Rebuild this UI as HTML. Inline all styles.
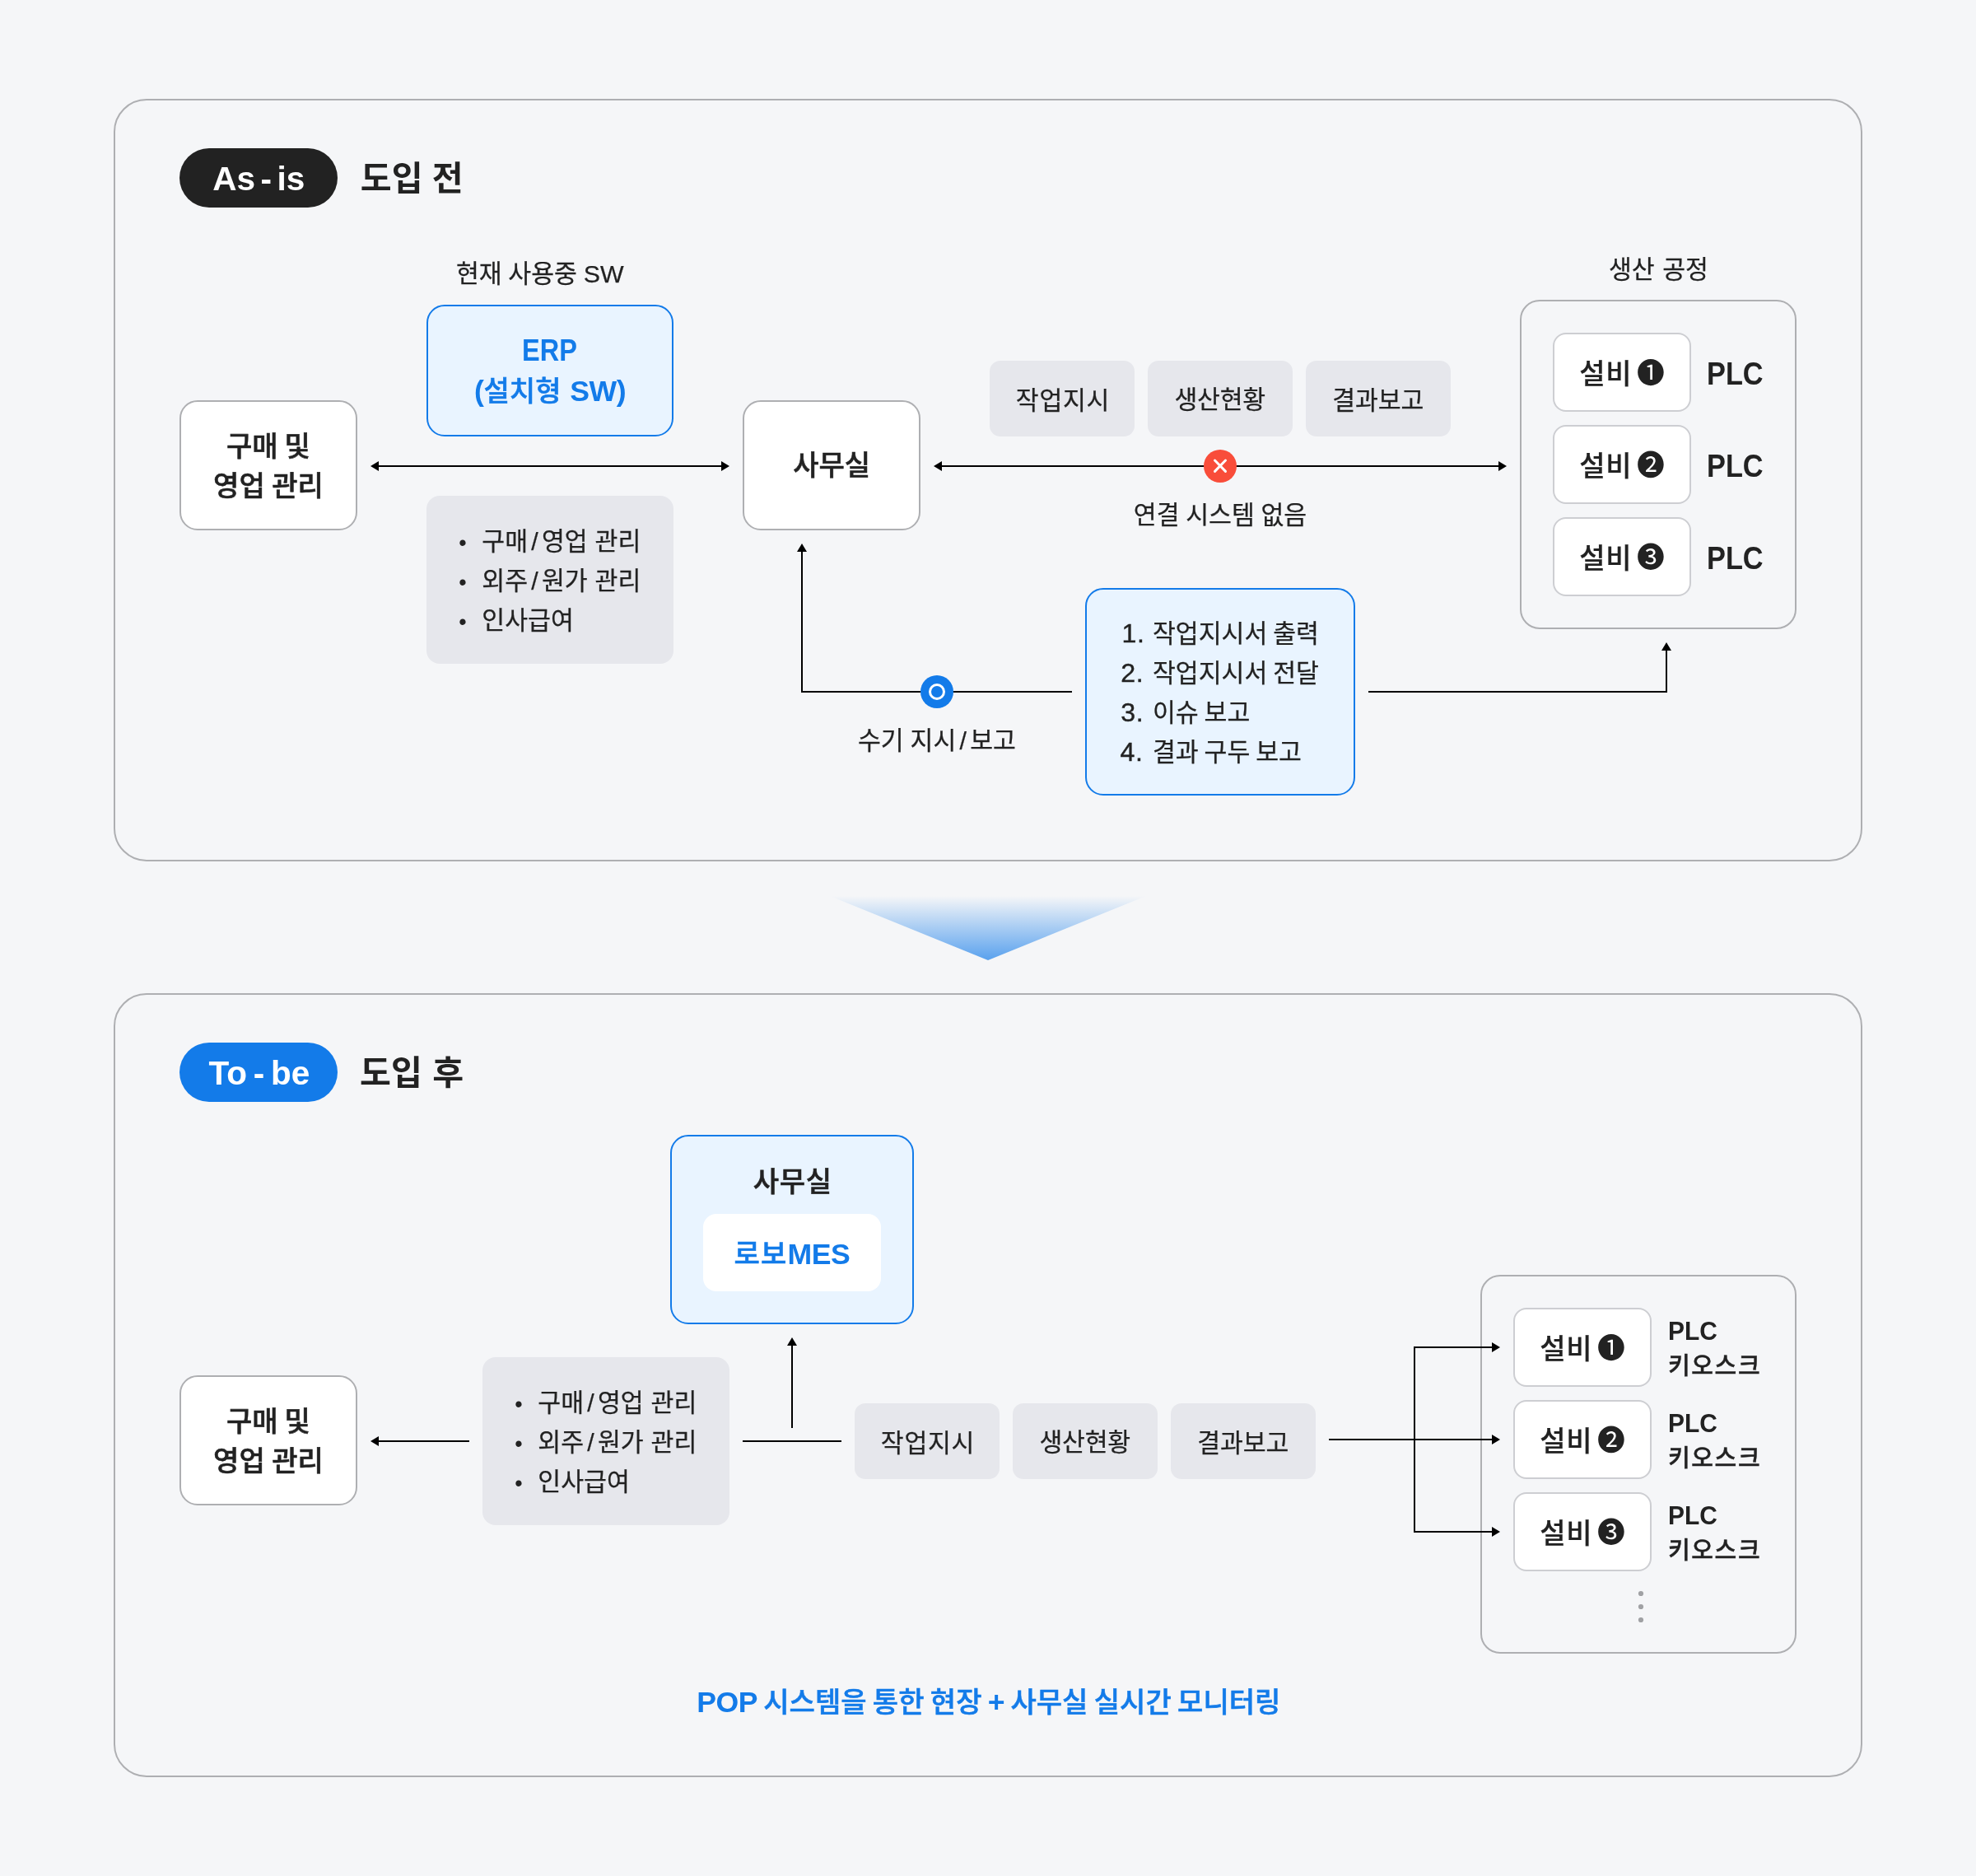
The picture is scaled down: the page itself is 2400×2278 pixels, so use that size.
<!DOCTYPE html>
<html lang="ko"><head><meta charset="utf-8"><title>As-is / To-be</title>
<style>
html,body{margin:0;padding:0}
body{width:2400px;height:2278px;position:relative;overflow:hidden;background:#f5f6f8;font-family:"Liberation Sans","Noto Sans CJK KR",sans-serif;color:#222}
.t{position:absolute;white-space:nowrap;line-height:1;margin:0;transform-origin:0 50%}
.b{position:absolute;box-sizing:border-box}
svg{position:absolute;left:0;top:0}
#txt{position:absolute;left:0;top:0;width:2400px;height:2278px;will-change:transform}
.L{font-weight:700;-webkit-text-stroke:0;font-size:1.045em;letter-spacing:-.015em}
.sl{margin:0 .14em}
.wb{background:#fff;border:2px solid #aeafb2;border-radius:22px}
.bb{background:#e9f4ff;border:2px solid #137be9;border-radius:22px}
.gb{background:#e6e7ec;border-radius:16px}
.chip{width:176px;height:92px;background:#e6e7ec;border-radius:13px}
.ob{border:2px solid #aeafb2;border-radius:24px}
.ib{width:168px;height:96px;background:#fff;border:2px solid #cdced2;border-radius:16px}
</style></head>
<body>
<!-- panels -->
<div class="b" style="left:138px;top:120px;width:2124px;height:926px;border:2px solid #aeafb2;border-radius:40px"></div>
<div class="b" style="left:138px;top:1206px;width:2124px;height:952px;border:2px solid #aeafb2;border-radius:40px"></div>
<!-- badges -->
<div class="b" style="left:218px;top:180px;width:192px;height:72px;border-radius:36px;background:#222"></div>
<div class="b" style="left:218px;top:1266px;width:192px;height:72px;border-radius:36px;background:#137be9"></div>
<!-- panel 1 boxes -->
<div class="b wb" style="left:218px;top:486px;width:216px;height:158px"></div>
<div class="b wb" style="left:902px;top:486px;width:216px;height:158px"></div>
<div class="b bb" style="left:518px;top:370px;width:300px;height:160px"></div>
<div class="b gb" style="left:518px;top:602px;width:300px;height:204px"></div>
<div class="b chip" style="left:1202px;top:438px"></div>
<div class="b chip" style="left:1394px;top:438px"></div>
<div class="b chip" style="left:1586px;top:438px"></div>
<div class="b bb" style="left:1318px;top:714px;width:328px;height:252px"></div>
<div class="b ob" style="left:1846px;top:364px;width:336px;height:400px"></div>
<div class="b ib" style="left:1886px;top:404px"></div>
<div class="b ib" style="left:1886px;top:516px"></div>
<div class="b ib" style="left:1886px;top:628px"></div>
<!-- panel 2 boxes -->
<div class="b wb" style="left:218px;top:1670px;width:216px;height:158px"></div>
<div class="b gb" style="left:586px;top:1648px;width:300px;height:204px"></div>
<div class="b bb" style="left:814px;top:1378px;width:296px;height:230px"></div>
<div class="b" style="left:854px;top:1474px;width:216px;height:94px;border-radius:16px;background:#fff"></div>
<div class="b chip" style="left:1038px;top:1704px"></div>
<div class="b chip" style="left:1230px;top:1704px"></div>
<div class="b chip" style="left:1422px;top:1704px"></div>
<div class="b ob" style="left:1798px;top:1548px;width:384px;height:460px"></div>
<div class="b ib" style="left:1838px;top:1588px"></div>
<div class="b ib" style="left:1838px;top:1700px"></div>
<div class="b ib" style="left:1838px;top:1812px"></div>
<!-- arrows, icons -->
<svg width="2400" height="2278" viewBox="0 0 2400 2278">
<defs>
<linearGradient id="tg" x1="0" y1="0" x2="0" y2="1"><stop offset="0" stop-color="#137be9" stop-opacity="0"/><stop offset="1" stop-color="#137be9" stop-opacity="0.69"/></linearGradient>
</defs>
<polygon points="1008,1088 1392,1088 1200,1166" fill="url(#tg)"/>
<g stroke="#000" stroke-width="2" fill="none">
<path d="M458 566H878"/>
<path d="M1142 566H1822"/>
<path d="M974 668V840H1302"/>
<path d="M1662 840H2024V788"/>
<path d="M570 1750H458"/>
<path d="M902 1750H1022"/>
<path d="M962 1734V1632"/>
<path d="M1614 1748H1814"/>
<path d="M1814 1636H1718V1860H1814"/>
</g>
<g fill="#000">
<path d="M450 566l10-6v12z"/>
<path d="M886 566l-10-6v12z"/>
<path d="M1134 566l10-6v12z"/>
<path d="M1830 566l-10-6v12z"/>
<path d="M974 660l-6 10h12z"/>
<path d="M2024 780l-6 10h12z"/>
<path d="M450 1750l10-6v12z"/>
<path d="M962 1624l-6 10h12z"/>
<path d="M1822 1636l-10-6v12z"/>
<path d="M1822 1748l-10-6v12z"/>
<path d="M1822 1860l-10-6v12z"/>
</g>
<circle cx="1482" cy="566" r="20" fill="#f94d3a"/>
<path d="M1475.5 559l13 13.4M1488.5 559l-13 13.4" stroke="#fff" stroke-width="3" stroke-linecap="round"/>
<circle cx="1138" cy="840" r="20" fill="#137be9"/>
<circle cx="1138" cy="840" r="8.5" fill="none" stroke="#fff" stroke-width="3"/>
<g fill="#a0a1a4"><circle cx="1993" cy="1935" r="3.1"/><circle cx="1993" cy="1951" r="3.1"/><circle cx="1993" cy="1967" r="3.1"/></g>
</svg>
<div id="txt">
<div class="t" id="a1" style="left:258.23px;top:196.73px;font-size:40.52px;font-weight:700;color:#fff;word-spacing:-4.757px">As - is</div>
<div class="t" id="a2" style="left:437.79px;top:197.36px;font-size:41.20px;font-weight:700;color:#222222;word-spacing:-0.161px">도입 전</div>
<div class="t" id="a3" style="left:553.90px;top:318.45px;font-size:30.30px;font-weight:400;color:#222222;word-spacing:-0.706px;-webkit-text-stroke:0.25px">현재 사용중 SW</div>
<div class="t" id="a4" style="left:634.09px;top:407.48px;font-size:37.85px;font-weight:700;color:#137be9;transform:scaleX(0.8589)">ERP</div>
<div class="t" id="a5" style="left:576.09px;top:457.52px;font-size:34.10px;font-weight:500;color:#137be9;word-spacing:1.376px;-webkit-text-stroke:0.55px"><span class="L">(</span>설치형 <span class="L">SW)</span></div>
<div class="t" id="a6" style="left:274.94px;top:524.96px;font-size:34.10px;font-weight:500;color:#222222;word-spacing:-1.648px;-webkit-text-stroke:0.55px">구매 및</div>
<div class="t" id="a7" style="left:259.09px;top:572.81px;font-size:34.10px;font-weight:500;color:#222222;word-spacing:-1.078px;-webkit-text-stroke:0.55px">영업 관리</div>
<div class="t" id="bd1" style="left:557.15px;top:646.01px;font-size:26.87px;font-weight:400;color:#222222">•</div>
<div class="t" id="bd2" style="left:557.15px;top:694.01px;font-size:26.87px;font-weight:400;color:#222222">•</div>
<div class="t" id="bd3" style="left:557.15px;top:742.01px;font-size:26.87px;font-weight:400;color:#222222">•</div>
<div class="t" id="b1" style="left:585.27px;top:643.19px;font-size:30.30px;font-weight:400;color:#222222;word-spacing:0.494px;-webkit-text-stroke:0.25px">구매<span class="sl">/</span>영업 관리</div>
<div class="t" id="b2" style="left:585.27px;top:691.19px;font-size:30.30px;font-weight:400;color:#222222;word-spacing:0.494px;-webkit-text-stroke:0.25px">외주<span class="sl">/</span>원가 관리</div>
<div class="t" id="b3" style="left:585.27px;top:739.19px;font-size:30.30px;font-weight:400;color:#222222;word-spacing:0.494px;-webkit-text-stroke:0.25px">인사급여</div>
<div class="t" id="a9" style="left:963.15px;top:548.41px;font-size:34.10px;font-weight:500;color:#222222;letter-spacing:-0.090px;-webkit-text-stroke:0.55px">사무실</div>
<div class="t" id="ch1" style="left:1233.86px;top:471.56px;font-size:30.30px;font-weight:400;color:#222222;letter-spacing:0.659px;-webkit-text-stroke:0.25px">작업지시</div>
<div class="t" id="ch2" style="left:1426.52px;top:470.95px;font-size:30.30px;font-weight:400;color:#222222;letter-spacing:-0.287px;-webkit-text-stroke:0.25px">생산현황</div>
<div class="t" id="ch3" style="left:1618.17px;top:471.55px;font-size:30.30px;font-weight:400;color:#222222;letter-spacing:-0.053px;-webkit-text-stroke:0.25px">결과보고</div>
<div class="t" id="a13" style="left:1376.79px;top:610.91px;font-size:30.30px;font-weight:400;color:#222222;word-spacing:-0.787px;-webkit-text-stroke:0.25px">연결 시스템 없음</div>
<div class="t" id="a14" style="left:1041.89px;top:885.34px;font-size:30.30px;font-weight:400;color:#222222;word-spacing:-0.488px;-webkit-text-stroke:0.25px">수기 지시<span class="sl">/</span>보고</div>
<div class="t" id="l1" style="left:1400.01px;top:754.83px;font-size:30.30px;font-weight:400;color:#222222;word-spacing:-1.561px;-webkit-text-stroke:0.25px">작업지시서 출력</div>
<div class="t" id="l2" style="left:1400.01px;top:802.83px;font-size:30.30px;font-weight:400;color:#222222;word-spacing:-1.561px;-webkit-text-stroke:0.25px">작업지시서 전달</div>
<div class="t" id="l3" style="left:1400.01px;top:850.83px;font-size:30.30px;font-weight:400;color:#222222;word-spacing:-1.561px;-webkit-text-stroke:0.25px">이슈 보고</div>
<div class="t" id="l4" style="left:1400.01px;top:898.83px;font-size:30.30px;font-weight:400;color:#222222;word-spacing:-1.561px;-webkit-text-stroke:0.25px">결과 구두 보고</div>
<div class="t" id="ln1" style="left:1362.51px;top:752.76px;font-size:32.19px;font-weight:400;color:#222222;letter-spacing:0.694px;-webkit-text-stroke:0.4px">1.</div>
<div class="t" id="ln2" style="left:1361.21px;top:800.76px;font-size:32.19px;font-weight:400;color:#222222;letter-spacing:0.694px;-webkit-text-stroke:0.4px">2.</div>
<div class="t" id="ln3" style="left:1361.21px;top:848.76px;font-size:32.19px;font-weight:400;color:#222222;letter-spacing:0.694px;-webkit-text-stroke:0.4px">3.</div>
<div class="t" id="ln4" style="left:1360.51px;top:896.76px;font-size:32.19px;font-weight:400;color:#222222;letter-spacing:0.694px;-webkit-text-stroke:0.4px">4.</div>
<div class="t" id="a16" style="left:1953.90px;top:313.21px;font-size:30.30px;font-weight:400;color:#222222;word-spacing:1.163px;-webkit-text-stroke:0.25px">생산 공정</div>
<div class="t" id="s1" style="left:1918.13px;top:437.06px;font-size:34.10px;font-weight:500;color:#222222;letter-spacing:0.729px;-webkit-text-stroke:0.2px">설비</div>
<div class="t" id="s2" style="left:1918.13px;top:549.06px;font-size:34.10px;font-weight:500;color:#222222;letter-spacing:0.729px;-webkit-text-stroke:0.2px">설비</div>
<div class="t" id="s3" style="left:1918.13px;top:661.06px;font-size:34.10px;font-weight:500;color:#222222;letter-spacing:0.729px;-webkit-text-stroke:0.2px">설비</div>
<div class="t" id="n1" style="left:1987.88px;top:436.60px;font-size:33.85px;font-weight:400;color:#222222">❶</div>
<div class="t" id="n2" style="left:1987.88px;top:548.60px;font-size:33.85px;font-weight:400;color:#222222">❷</div>
<div class="t" id="n3" style="left:1987.88px;top:660.60px;font-size:33.85px;font-weight:400;color:#222222">❸</div>
<div class="t" id="p1" style="left:2073.10px;top:434.83px;font-size:38.84px;font-weight:700;color:#222222;transform:scaleX(0.8842)">PLC</div>
<div class="t" id="p2" style="left:2073.10px;top:546.83px;font-size:38.84px;font-weight:700;color:#222222;transform:scaleX(0.8842)">PLC</div>
<div class="t" id="p3" style="left:2073.10px;top:658.83px;font-size:38.84px;font-weight:700;color:#222222;transform:scaleX(0.8842)">PLC</div>
<div class="t" id="c1" style="left:253.59px;top:1282.73px;font-size:40.52px;font-weight:700;color:#fff;word-spacing:-3.478px">To - be</div>
<div class="t" id="c2" style="left:437.07px;top:1283.48px;font-size:41.20px;font-weight:700;color:#222222;word-spacing:0.961px">도입 후</div>
<div class="t" id="c3" style="left:914.71px;top:1417.61px;font-size:34.10px;font-weight:500;color:#222222;letter-spacing:0.696px;-webkit-text-stroke:0.55px">사무실</div>
<div class="t" id="c4" style="left:891.62px;top:1505.64px;font-size:34.10px;font-weight:500;color:#137be9;letter-spacing:1.141px;-webkit-text-stroke:0.55px">로보<span class="L">MES</span></div>
<div class="t" id="c6" style="left:274.94px;top:1708.96px;font-size:34.10px;font-weight:500;color:#222222;word-spacing:-1.648px;-webkit-text-stroke:0.55px">구매 및</div>
<div class="t" id="c7" style="left:259.09px;top:1756.81px;font-size:34.10px;font-weight:500;color:#222222;word-spacing:-1.078px;-webkit-text-stroke:0.55px">영업 관리</div>
<div class="t" id="dd1" style="left:625.15px;top:1692.01px;font-size:26.87px;font-weight:400;color:#222222">•</div>
<div class="t" id="dd2" style="left:625.15px;top:1740.01px;font-size:26.87px;font-weight:400;color:#222222">•</div>
<div class="t" id="dd3" style="left:625.15px;top:1788.01px;font-size:26.87px;font-weight:400;color:#222222">•</div>
<div class="t" id="d1" style="left:653.27px;top:1689.19px;font-size:30.30px;font-weight:400;color:#222222;word-spacing:0.494px;-webkit-text-stroke:0.25px">구매<span class="sl">/</span>영업 관리</div>
<div class="t" id="d2" style="left:653.27px;top:1737.19px;font-size:30.30px;font-weight:400;color:#222222;word-spacing:0.494px;-webkit-text-stroke:0.25px">외주<span class="sl">/</span>원가 관리</div>
<div class="t" id="d3" style="left:653.27px;top:1785.19px;font-size:30.30px;font-weight:400;color:#222222;word-spacing:0.494px;-webkit-text-stroke:0.25px">인사급여</div>
<div class="t" id="dh1" style="left:1069.86px;top:1737.56px;font-size:30.30px;font-weight:400;color:#222222;letter-spacing:0.659px;-webkit-text-stroke:0.25px">작업지시</div>
<div class="t" id="dh2" style="left:1262.52px;top:1736.95px;font-size:30.30px;font-weight:400;color:#222222;letter-spacing:-0.287px;-webkit-text-stroke:0.25px">생산현황</div>
<div class="t" id="dh3" style="left:1454.17px;top:1737.55px;font-size:30.30px;font-weight:400;color:#222222;letter-spacing:-0.053px;-webkit-text-stroke:0.25px">결과보고</div>
<div class="t" id="e1" style="left:1870.13px;top:1621.06px;font-size:34.10px;font-weight:500;color:#222222;letter-spacing:0.729px;-webkit-text-stroke:0.2px">설비</div>
<div class="t" id="e2" style="left:1870.13px;top:1733.06px;font-size:34.10px;font-weight:500;color:#222222;letter-spacing:0.729px;-webkit-text-stroke:0.2px">설비</div>
<div class="t" id="e3" style="left:1870.13px;top:1845.06px;font-size:34.10px;font-weight:500;color:#222222;letter-spacing:0.729px;-webkit-text-stroke:0.2px">설비</div>
<div class="t" id="m1" style="left:1939.88px;top:1620.60px;font-size:33.85px;font-weight:400;color:#222222">❶</div>
<div class="t" id="m2" style="left:1939.88px;top:1732.60px;font-size:33.85px;font-weight:400;color:#222222">❷</div>
<div class="t" id="m3" style="left:1939.88px;top:1844.60px;font-size:33.85px;font-weight:400;color:#222222">❸</div>
<div class="t" id="q1" style="left:2025.82px;top:1601.15px;font-size:31.41px;font-weight:700;color:#222222;transform:scaleX(0.9523)">PLC</div>
<div class="t" id="q2" style="left:2025.82px;top:1713.15px;font-size:31.41px;font-weight:700;color:#222222;transform:scaleX(0.9523)">PLC</div>
<div class="t" id="q3" style="left:2025.82px;top:1825.15px;font-size:31.41px;font-weight:700;color:#222222;transform:scaleX(0.9523)">PLC</div>
<div class="t" id="k1" style="left:2025.95px;top:1645.06px;font-size:29.00px;font-weight:500;color:#222222;letter-spacing:1.663px;-webkit-text-stroke:0.45px">키오스크</div>
<div class="t" id="k2" style="left:2025.95px;top:1757.06px;font-size:29.00px;font-weight:500;color:#222222;letter-spacing:1.663px;-webkit-text-stroke:0.45px">키오스크</div>
<div class="t" id="k3" style="left:2025.95px;top:1869.06px;font-size:29.00px;font-weight:500;color:#222222;letter-spacing:1.663px;-webkit-text-stroke:0.45px">키오스크</div>
<div class="t" id="z1" style="left:846.29px;top:2049.98px;font-size:34.10px;font-weight:500;color:#137be9;word-spacing:-2.199px;-webkit-text-stroke:0.55px"><span class="L">POP</span> 시스템을 통한 현장 <span class="L">+</span> 사무실 실시간 모니터링</div>
</div>
</body></html>
